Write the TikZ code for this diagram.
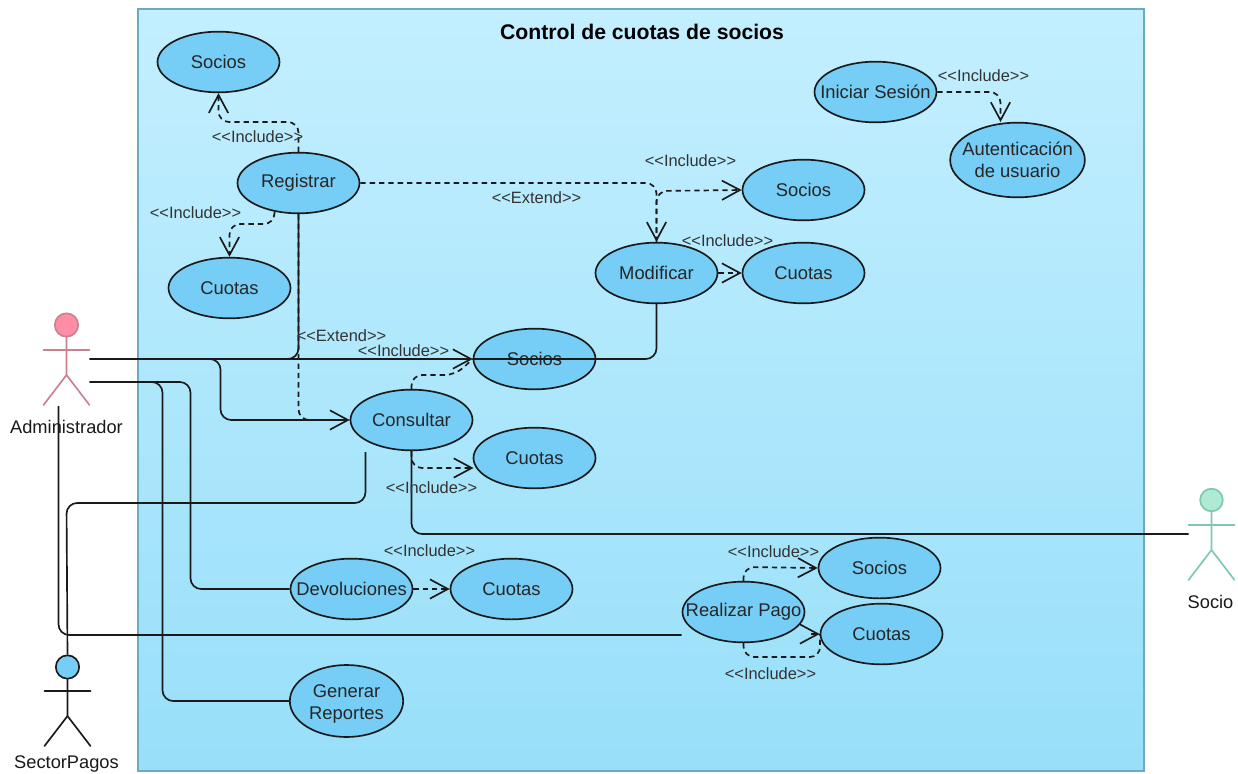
\documentclass[tikz,border=0pt]{standalone}
\usepackage{fontspec}
\setmainfont{Liberation Sans}
\usetikzlibrary{shapes.geometric,arrows.meta}
\definecolor{ucfill}{HTML}{76CDF5}
\definecolor{boxtop}{HTML}{C3EFFF}
\definecolor{boxbot}{HTML}{98DFF9}
\definecolor{boxline}{HTML}{6CA9C4}
\definecolor{inkc}{HTML}{1A1A1A}
\definecolor{admline}{HTML}{C9808F}
\definecolor{admfill}{HTML}{FF8DA6}
\definecolor{socline}{HTML}{7FC7AF}
\definecolor{socfill}{HTML}{AEEBD4}
\tikzset{
  x=0.75pt,y=-0.75pt,
  uc/.style={ellipse,draw=inkc,fill=ucfill,line width=1.25pt,minimum width=91.5pt,minimum height=45.5pt,inner xsep=-14pt,inner ysep=0pt,font=\fontsize{13.8}{16.5}\selectfont,align=center,text=black!85},
  lbl/.style={font=\fontsize{12.3}{14}\selectfont,inner sep=0pt,text=black!80},
  actorname/.style={font=\fontsize{13.7}{16}\selectfont,inner sep=0pt,text=black!90},
  head/.style={circle,line width=1.25pt,minimum size=17.5pt,inner sep=0pt},
  limb/.style={line width=1.25pt,line cap=round},
  conn/.style={draw=inkc,line width=1.25pt,rounded corners=8pt},
  dep/.style={conn,dashed,dash pattern=on 4pt off 3pt},
  tip/.style={-{Straight Barb[length=13.5pt,width=14.5pt,line width=1.25pt]}},
}
\begin{document}
\begin{tikzpicture}
\useasboundingbox (0,0) rectangle (1238,774);
\node[draw=boxline,line width=1.2pt,top color=boxtop,bottom color=boxbot,minimum width=754.5pt,minimum height=571.5pt,inner sep=0pt] (system) at (641,390) {};
\node[font=\bfseries\fontsize{15.9}{18}\selectfont,inner sep=0pt] (title) at (642,32) {Control de cuotas de socios};
\begin{scope}[shift={(0.5,0)}]
% use cases
\node[uc] (socA) at (218,62) {Socios};
\node[uc] (reg) at (298,183) {Registrar};
\node[uc] (cuoA) at (229,288) {Cuotas};
\node[uc] (socB) at (803,190) {Socios};
\node[uc] (mod) at (656,273) {Modificar};
\node[uc] (cuoB) at (803,273) {Cuotas};
\node[uc] (socC) at (534,359) {Socios};
\node[uc] (cons) at (411,420) {Consultar};
\node[uc] (cuoC) at (534,458) {Cuotas};
\node[uc] (ini) at (875,92) {Iniciar Sesión};
\node[uc,minimum width=101pt,minimum height=56pt] (aut) at (1017,160) {Autenticación\\de usuario};
\node[uc] (dev) at (351,589) {Devoluciones};
\node[uc] (cuoD) at (511,589) {Cuotas};
\node[uc] (pago) at (743,612) {Realizar Pago};
\node[uc] (socD) at (879,568) {Socios};
\node[uc] (cuoE) at (881,634) {Cuotas};
\node[uc,minimum width=85pt,minimum height=54pt] (gen) at (346,701) {\rule{0pt}{14.5pt}Generar\\Reportes};
% actors
\node[head,draw=admline,fill=admfill] (admH) at (66,325) {};
\coordinate (admN) at (66,350);
\coordinate (admW) at (43,350);
\coordinate (admE) at (89,350);
\coordinate (admC) at (66,375);
\coordinate (admL) at (43,405);
\coordinate (admR) at (89,405);
\draw[limb,draw=admline] (admH) -- (admC) -- (admL) (admC) -- (admR) (admW) -- (admE);
\node[actorname] (admT) at (66,427) {Administrador};
\node[head,draw=inkc,fill=ucfill] (secH) at (67,667) {};
\coordinate (secN) at (67,691);
\coordinate (secW) at (44,691);
\coordinate (secE) at (90,691);
\coordinate (secC) at (67,716);
\coordinate (secL) at (44,746);
\coordinate (secR) at (90,746);
\draw[limb,draw=inkc] (secH) -- (secC) -- (secL) (secC) -- (secR) (secW) -- (secE);
\node[actorname] (secT) at (66,764.5) {SectorPagos};
\node[head,minimum size=17pt,draw=socline,fill=socfill] (socH) at (1211,500) {};
\coordinate (socN) at (1211,525);
\coordinate (socW) at (1188,525);
\coordinate (socE) at (1234,525);
\coordinate (socM) at (1211,550);
\coordinate (socL) at (1188,580);
\coordinate (socR) at (1234,580);
\draw[limb,draw=socline] (socH) -- (socM) -- (socL) (socM) -- (socR) (socW) -- (socE);
\node[actorname] (socT) at (1210,602) {Socio};
% free ends
\coordinate (admP) at (89,359);
\coordinate (admQ) at (89,382);
\coordinate (admS) at (58,406);
\coordinate (consA) at (365,452);
\coordinate (socK) at (1188,534);
\coordinate (regA) at (274,212);
\coordinate (pagoK) at (681,635);
\coordinate (cuoCk) at (473,468);
\coordinate (cuoEk) at (810,634);
% associations
\draw[conn,tip] (admP) -- (socC.west);
\draw[conn] (admP) -- (298,359) -- (reg.south);
\draw[conn,tip] (admP) -- (220,359) -- (220,420) -- (cons.west);
\draw[conn] (admQ) -- (190,382) -- (190,589) -- (dev.west);
\draw[conn] (admQ) -- (162,382) -- (162,701) -- (gen.west);
\draw[conn] (admS) -- (58,635) -- (pagoK);
\draw[conn] (consA) -- (365,503) -- (66,503) -- (secH.north);
\draw[conn] (cons.south) -- (411,534) -- (socK);
\draw[conn] (socC.west) -- (656,359) -- (mod.south);
% dependencies
\draw[dep,tip] (reg.north) -- (298,122) -- (218,122) -- (socA.south);
\draw[dep,tip] (regA) -- (274,224) -- (229,224) -- (cuoA.north);
\draw[dep,tip] (reg.east) -- (656,183) -- (mod.north);
\draw[dep,tip] (mod.north) -- (656,191) -- (socB.west);
\draw[dep,tip] (mod.east) -- (cuoB.west);
\draw[dep] (reg.south) -- (298,420) -- (cons.west);
\draw[dep] (cons.north) -- (411,375) -- (455,375) -- (socC.west);
\draw[dep,tip] (cons.south) -- (411,468) -- (cuoCk);
\draw[dep,tip] (dev.east) -- (cuoD.west);
\draw[dep,tip] (ini.east) -- (1000,92) -- (1000,122);
\draw[dep,tip] (pago.north) -- (743,567) -- (socD.west);
\draw[dep] (pago.south) -- (743,657) -- (820,657) -- (cuoE.west);
\draw[conn,tip] (cuoEk) -- (cuoE.west);
% labels
\node[lbl] (l1) at (257,137) {<{}<Include>{}>};
\node[lbl] (l2) at (195,213) {<{}<Include>{}>};
\node[lbl] (l3) at (536,198) {<{}<Extend>{}>};
\node[lbl] (l4) at (690,161) {<{}<Include>{}>};
\node[lbl] (l5) at (727,241) {<{}<Include>{}>};
\node[lbl] (l6) at (341,336) {<{}<Extend>{}>};
\node[lbl] (l7) at (403,351) {<{}<Include>{}>};
\node[lbl] (l8) at (431,488) {<{}<Include>{}>};
\node[lbl] (l9) at (429,551) {<{}<Include>{}>};
\node[lbl] (l10) at (773,552) {<{}<Include>{}>};
\node[lbl] (l11) at (770,674) {<{}<Include>{}>};
\node[lbl] (l12) at (983,76) {<{}<Include>{}>};
\end{scope}
\end{tikzpicture}
\end{document}
